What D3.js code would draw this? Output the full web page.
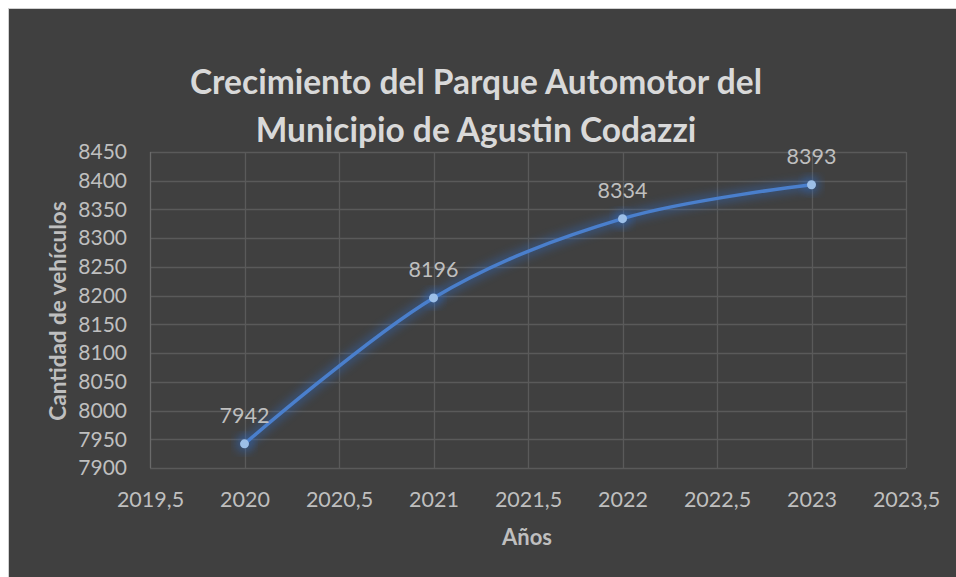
<!DOCTYPE html>
<html><head><meta charset="utf-8">
<script src="https://cdn.jsdelivr.net/npm/d3@7"></script>
<style>
html,body{margin:0;padding:0;background:#ffffff;overflow:hidden;}
svg{display:block;}
</style></head>
<body>
<svg id="chart" width="1000" height="620"></svg>
<script>
const years = [2020, 2021, 2022, 2023];
const vehicles = [7942, 8196, 8334, 8393];
const xTicks = [2019.5, 2020, 2020.5, 2021, 2021.5, 2022, 2022.5, 2023, 2023.5];
const yTicks = [7900, 7950, 8000, 8050, 8100, 8150, 8200, 8250, 8300, 8350, 8400, 8450];
const titleLines = ["Crecimiento del Parque Automotor del", "Municipio de Agustin Codazzi"];
const xTitle = "Años";
const yTitle = "Cantidad de vehículos";

const svg = d3.select("#chart");
const W = 1000, H = 620;
const font = "Lato, 'Open Sans', sans-serif";

svg.append("rect").attr("x", 8.5).attr("y", 8.5).attr("width", W).attr("height", H)
  .attr("fill", "#404040").attr("stroke", "#d0d0d0").attr("stroke-width", 1);

const m = {left: 150, right: 906, top: 152, bottom: 468};
const x = d3.scaleLinear().domain([2019.5, 2023.5]).range([m.left, m.right]);
const y = d3.scaleLinear().domain([7900, 8450]).range([m.bottom, m.top]);

const fmt = v => String(v).replace(".", ",");

// grid
const grid = svg.append("g");
grid.selectAll(".hg").data(yTicks).join("line")
  .attr("x1", m.left).attr("x2", m.right)
  .attr("y1", d => Math.round(y(d)) + 0.5).attr("y2", d => Math.round(y(d)) + 0.5)
  .attr("stroke", "#5a5a5a").attr("stroke-width", 1.3);
grid.selectAll(".vg").data(xTicks).join("line")
  .attr("y1", m.top).attr("y2", m.bottom)
  .attr("x1", d => Math.round(x(d)) + 0.5).attr("x2", d => Math.round(x(d)) + 0.5)
  .attr("stroke", d => d === 2019.5 ? "#6a6a6a" : "#5a5a5a").attr("stroke-width", 1.3);

// axes (labels only)
const xAxis = d3.axisBottom(x).tickValues(xTicks).tickFormat(fmt).tickSize(0).tickPadding(24);
const gx = svg.append("g").attr("transform", `translate(0,${m.bottom})`).call(xAxis);
gx.select(".domain").remove();
gx.selectAll("text").attr("font-family", font).attr("font-size", 21.5).attr("fill", "#bfbfbf");

const yAxis = d3.axisLeft(y).tickValues(yTicks).tickFormat(fmt).tickSize(0).tickPadding(23);
const gy = svg.append("g").attr("transform", `translate(${m.left},0)`).call(yAxis);
gy.select(".domain").remove();
gy.selectAll("text").attr("font-family", font).attr("font-size", 21).attr("fill", "#bfbfbf");

// glow filter
const defs = svg.append("defs");
const f = defs.append("filter").attr("id", "glow").attr("x", "-20%").attr("y", "-20%").attr("width", "140%").attr("height", "140%");
f.append("feGaussianBlur").attr("stdDeviation", 5);

const data = years.map((d, i) => ({x: d, y: vehicles[i]}));
const line = d3.line().x(d => x(d.x)).y(d => y(d.y)).curve(d3.curveCardinal.tension(0));

svg.append("path").datum(data).attr("d", line).attr("fill", "none")
  .attr("stroke", "#2f6fd0").attr("stroke-width", 10).attr("opacity", 0.4).attr("filter", "url(#glow)");
svg.selectAll(".gp").data(data).join("circle")
  .attr("cx", d => x(d.x)).attr("cy", d => y(d.y)).attr("r", 9)
  .attr("fill", "#2f6fd0").attr("opacity", 0.4).attr("filter", "url(#glow)");

svg.append("path").datum(data).attr("d", line).attr("fill", "none")
  .attr("stroke", "#4a7fcc").attr("stroke-width", 3.5).attr("stroke-linecap", "round");

svg.selectAll(".pt").data(data).join("circle")
  .attr("cx", d => x(d.x)).attr("cy", d => y(d.y)).attr("r", 4.5)
  .attr("fill", "#9cbfe8");

svg.selectAll(".lbl").data(data).join("text")
  .attr("x", d => x(d.x)).attr("y", d => y(d.y) - 21)
  .attr("text-anchor", "middle").attr("font-family", font).attr("font-size", 21.5)
  .attr("fill", "#bfbfbf").text(d => d.y);

// titles
svg.selectAll(".title").data(titleLines).join("text")
  .attr("x", 476).attr("y", (d, i) => 94 + i * 48)
  .attr("text-anchor", "middle").attr("font-family", font).attr("font-weight", "bold")
  .attr("font-size", 33.5).attr("fill", "#d9d9d9").text(d => d);

svg.append("text").attr("x", 527).attr("y", 545).attr("text-anchor", "middle")
  .attr("font-family", font).attr("font-weight", "bold").attr("font-size", 22)
  .attr("fill", "#bfbfbf").text(xTitle);

svg.append("text").attr("transform", `translate(66,311) rotate(-90)`).attr("text-anchor", "middle")
  .attr("font-family", font).attr("font-weight", "bold").attr("font-size", 22.5)
  .attr("fill", "#bfbfbf").text(yTitle);
</script>
</body></html>
